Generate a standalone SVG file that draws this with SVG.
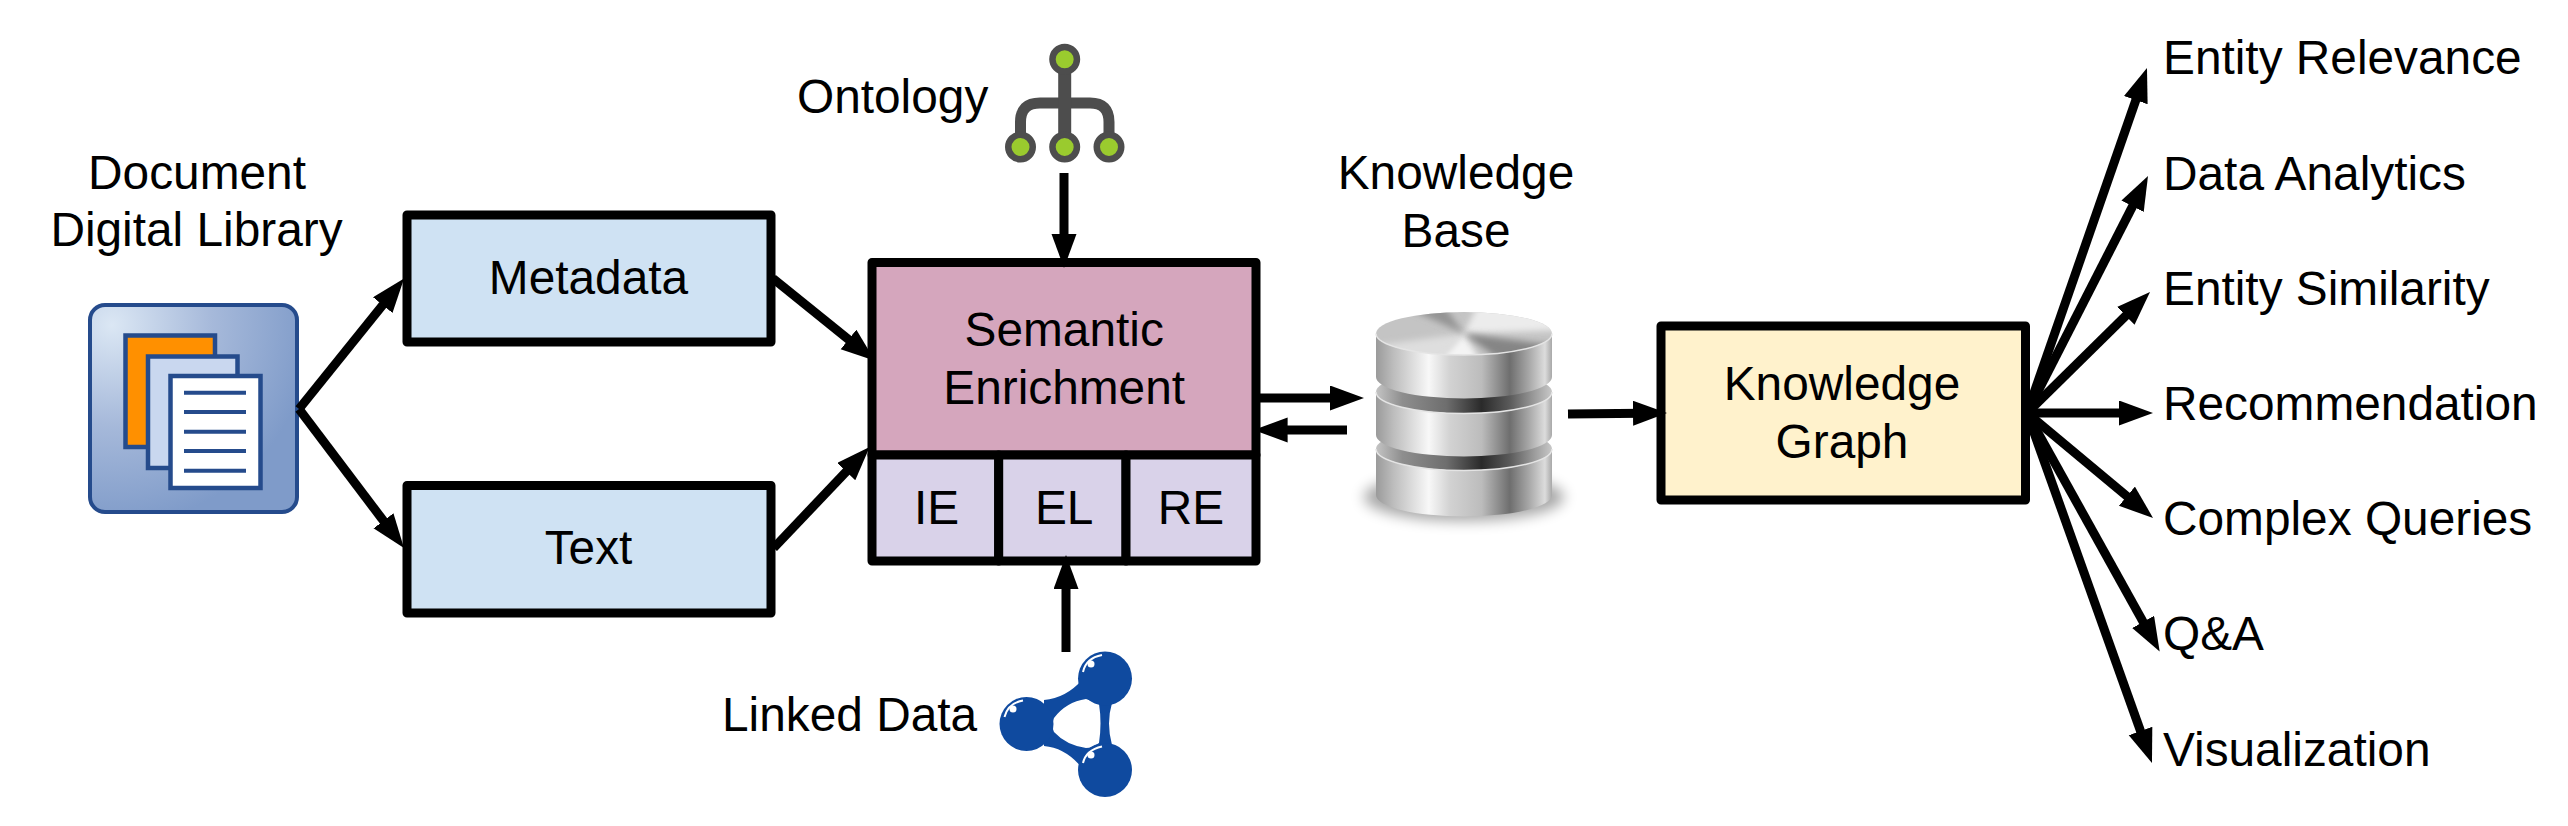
<svg xmlns="http://www.w3.org/2000/svg" width="2568" height="826" viewBox="0 0 2568 826">
<style>
text{font-family:"Liberation Sans",Arial,sans-serif;font-size:47.800px;fill:#000}
.c{text-anchor:middle}
.box{stroke:#000;stroke-width:9;stroke-linejoin:round}
.blue{fill:#cfe2f3}
.page{stroke:#254b8c;stroke-width:4.500}
.rule{stroke:#254b8c;stroke-width:4}
.arrow{stroke:#000;stroke-width:9;fill:none;marker-end:url(#head)}
.side{fill:url(#metal)}
.face{fill:url(#groove)}
.rim{fill:none;stroke:#e4e4e4;stroke-width:1.500}
.ball{fill:#0f4a9f}
.shine{fill:none;stroke:#fff;stroke-width:2}
.tree{fill:none;stroke:#4d4d4d;stroke-width:11}
.leaf{fill:#9acb2e;stroke:#4d4d4d;stroke-width:6.500}
</style>
<defs>
<marker id="head" markerUnits="userSpaceOnUse" markerWidth="38" markerHeight="28" refX="10" refY="12.500" orient="auto"><path d="M0,0L34,12.500L0,25Z" fill="#000"/></marker>
<radialGradient id="docbg" gradientUnits="userSpaceOnUse" cx="112" cy="325" r="200"><stop offset="0" stop-color="#dbe7f4"/><stop offset=".5" stop-color="#a6b9da"/><stop offset="1" stop-color="#7f9bc9"/></radialGradient>
<linearGradient id="metal" x1="0" x2="1" y1="0" y2="0"><stop offset="0" stop-color="#9a9a9a"/><stop offset=".1" stop-color="#bdbdbd"/><stop offset=".3" stop-color="#f8f8f8"/><stop offset=".42" stop-color="#d2d2d2"/><stop offset=".6" stop-color="#bcbcbc"/><stop offset=".76" stop-color="#6e6e6e"/><stop offset=".87" stop-color="#a8a8a8"/><stop offset=".96" stop-color="#dcdcdc"/><stop offset="1" stop-color="#a8a8a8"/></linearGradient>
<linearGradient id="groove" x1="0" x2="1" y1="0" y2="0"><stop offset="0" stop-color="#c4c4c4"/><stop offset=".15" stop-color="#8e8e8e"/><stop offset=".4" stop-color="#6e6e6e"/><stop offset=".6" stop-color="#2a2a2a"/><stop offset=".76" stop-color="#5a5a5a"/><stop offset=".9" stop-color="#9c9c9c"/><stop offset="1" stop-color="#c8c8c8"/></linearGradient>
<filter id="soft" x="-20%" y="-50%" width="140%" height="200%"><feGaussianBlur stdDeviation="7"/></filter>
<filter id="soft2" x="-20%" y="-50%" width="140%" height="200%"><feGaussianBlur stdDeviation="3"/></filter>
<clipPath id="topclip"><ellipse cx="1464" cy="333.500" rx="88" ry="21.500"/></clipPath>
</defs>

<g id="document-library">
<text class="c" x="197" y="189">Document</text>
<text class="c" x="196.500" y="246">Digital Library</text>
<rect x="90" y="305" width="207" height="207" rx="15" fill="url(#docbg)" stroke="#254b8c" stroke-width="4"/>
<rect class="page" x="125.500" y="335.500" width="89.500" height="111.500" fill="#ff9000"/>
<rect class="page" x="148" y="356.500" width="89.500" height="111.500" fill="#c9d7ef"/>
<rect class="page" x="170.500" y="376" width="90" height="112" fill="#fff"/>
<path class="rule" d="M184,392.700H246M184,412H246M184,431.700H246M184,451H246M184,470.700H246"/>
</g>

<g id="metadata"><rect class="box blue" x="407" y="215" width="364" height="127"/><text class="c" x="588.500" y="294">Metadata</text></g>
<g id="text"><rect class="box blue" x="407" y="485.500" width="364" height="127.500"/><text class="c" x="588.500" y="564">Text</text></g>

<g id="ontology">
<text x="797" y="113">Ontology</text>
<path class="tree" d="M1020.500,136V122Q1020.500,103 1040,103H1090Q1109,103 1109,122V136"/>
<path d="M1064.700,70V136" stroke="#4d4d4d" stroke-width="13" fill="none"/>
<circle class="leaf" cx="1064.700" cy="59.300" r="12.250"/>
<circle class="leaf" cx="1020.500" cy="147" r="12.250"/>
<circle class="leaf" cx="1064.700" cy="147" r="12.250"/>
<circle class="leaf" cx="1109" cy="147" r="12.250"/>
</g>

<g id="semantic-enrichment">
<rect class="box" x="872" y="262.500" width="384" height="192.500" fill="#d5a6bd"/>
<text class="c" x="1064.200" y="346">Semantic</text>
<text class="c" x="1064.200" y="404">Enrichment</text>
</g>
<g id="ie"><rect class="box" x="872" y="455" width="126.700" height="106" fill="#d9d2e9"/><text class="c" x="936.500" y="524">IE</text></g>
<g id="el"><rect class="box" x="998.700" y="455" width="127.300" height="106" fill="#d9d2e9"/><text class="c" x="1064.200" y="524">EL</text></g>
<g id="re"><rect class="box" x="1126" y="455" width="130" height="106" fill="#d9d2e9"/><text class="c" x="1191" y="524">RE</text></g>

<g id="linked-data">
<text x="722" y="731">Linked Data</text>
<path class="ball" fill-rule="evenodd" d="M1044,700Q1066,698 1082,680L1112,703Q1106,723 1112,745L1082,768Q1066,748 1044,746ZM1086,699Q1095,702 1099,704Q1102,723 1099,743Q1092,748 1086,748Q1066,745 1054,732Q1051,725 1054,718Q1066,702 1086,699Z"/>
<circle class="ball" cx="1105" cy="678.500" r="27"/>
<circle class="ball" cx="1026.500" cy="724" r="27"/>
<circle class="ball" cx="1105" cy="770" r="27"/>
<path class="shine" d="M1083,672Q1086,658 1102,655"/><circle cx="1091" cy="664" r="3.500" fill="#fff"/>
<path class="shine" d="M1004.500,717Q1008,703 1023,700.500"/><circle cx="1013" cy="709" r="3.500" fill="#fff"/>
<path class="shine" d="M1083,763Q1086,750 1102,746.500"/><circle cx="1091" cy="755" r="3.500" fill="#fff"/>
</g>

<g id="knowledge-base">
<text class="c" x="1456" y="189">Knowledge</text>
<text class="c" x="1456" y="247">Base</text>
<ellipse cx="1464" cy="497" rx="100" ry="24" fill="#000" opacity=".35" filter="url(#soft)"/>
<ellipse class="face" cx="1464" cy="449" rx="88" ry="21.500"/>
<path class="side" d="M1376,449A88,21.500 0 0 0 1552,449V495A88,21.500 0 0 1 1376,495Z"/>
<path class="rim" d="M1376,449A88,21.500 0 0 0 1552,449"/>
<ellipse class="face" cx="1464" cy="392" rx="88" ry="21.500"/>
<path class="side" d="M1376,392A88,21.500 0 0 0 1552,392V435A88,21.500 0 0 1 1376,435Z"/>
<path class="rim" d="M1376,392A88,21.500 0 0 0 1552,392"/>
<path class="side" d="M1376,333.500A88,21.500 0 0 0 1552,333.500V377A88,21.500 0 0 1 1376,377Z"/>
<ellipse cx="1464" cy="333.500" rx="88" ry="21.500" fill="#c4c4c4"/>
<g clip-path="url(#topclip)">
<path d="M1464,333.500L1480,300H1560L1560,330Z" fill="#ececec" filter="url(#soft2)"/>
<path d="M1464,333.500L1380,345L1376,360H1440Z" fill="#dedede" filter="url(#soft2)"/>
<path d="M1464,333.500L1440,360H1480Z" fill="#f4f4f4" filter="url(#soft2)"/>
<path d="M1464,333.500L1500,360H1552V345Z" fill="#858585" filter="url(#soft2)"/>
<path d="M1464,333.500L1400,305L1440,300Z" fill="#949494" filter="url(#soft2)"/>
</g>
<path class="rim" d="M1376,333.500A88,21.500 0 0 0 1552,333.500"/>
</g>

<g id="knowledge-graph">
<rect class="box" x="1661" y="326" width="364.500" height="174" fill="#fff2cc"/>
<text class="c" x="1842" y="400">Knowledge</text>
<text class="c" x="1842" y="458">Graph</text>
</g>

<g id="outputs">
<text x="2163" y="74">Entity Relevance</text>
<text x="2163" y="189.500">Data Analytics</text>
<text x="2163" y="304.500">Entity Similarity</text>
<text x="2163" y="419.500">Recommendation</text>
<text x="2163" y="534.500">Complex Queries</text>
<text x="2163" y="650">Q&amp;A</text>
<text x="2163" y="765.500">Visualization</text>
</g>

<g id="connectors">
<path class="arrow" d="M299,409L389,297.300"/>
<path class="arrow" d="M299,409L389.500,528.800"/>
<path class="arrow" d="M773,278.500L856.300,345.700"/>
<path class="arrow" d="M773.700,548L853.100,464.400"/>
<path class="arrow" d="M1064,173V244"/>
<path class="arrow" d="M1066,652V579"/>
<path class="arrow" d="M1260,398H1340"/>
<path class="arrow" d="M1347,430H1277.600"/>
<path class="arrow" d="M1568,414L1643,413.200"/>
<path class="arrow" d="M2027,413L2139.100,90.700"/>
<path class="arrow" d="M2027,413L2137.100,197.400"/>
<path class="arrow" d="M2027,413L2132.900,308.800"/>
<path class="arrow" d="M2027,413H2129"/>
<path class="arrow" d="M2027,413L2134.600,502.600"/>
<path class="arrow" d="M2027,413L2148,630.600"/>
<path class="arrow" d="M2027,413L2143.900,740.400"/>
</g>
</svg>
